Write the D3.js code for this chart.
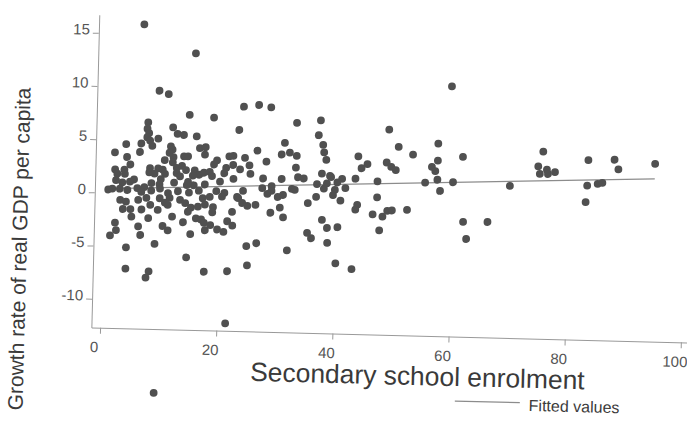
<!DOCTYPE html>
<html>
<head>
<meta charset="utf-8">
<script src="https://cdn.jsdelivr.net/npm/d3@7"></script>
<style>
  body { margin: 0; background: #fff; }
  svg { display: block; }
  text { font-family: "Liberation Sans", Arial, sans-serif; }
</style>
</head>
<body>
<svg width="687" height="438"></svg>
<script>
// scatter of growth vs secondary school enrolment
var enrolment = [
  6.3,15.3,9.2,10.8,14.5,18.7,23.8,26.4,28.5,23.1,33.0,37.1,36.8,48.9,59.5,31.0,37.6,37.8,38.2,
  7.4,7.3,7.6,7.3,7.8,8.2,11.7,12.5,13.6,15.8,9.2,3.7,6.3,6.1,1.8,3.9,11.4,11.7,11.2,11.9,11.8,
  13.7,14.4,16.4,17.4,17.3,10.4,4.5,1.9,2.3,3.5,3.6,7.9,9.3,7.8,8.7,10.1,10.5,9.8,12.5,13.4,
  14.1,12.5,13.1,15.6,16.4,15.3,17.2,5.2,4.5,3.2,2.1,8.2,9.6,12.1,14.3,15.5,14.5,1.5,2.8,4.1,
  5.8,7.0,6.5,8.2,9.7,11.1,12.8,14.7,16.4,
  26.3,30.5,31.9,33.1,21.5,22.2,24.2,27.9,19.4,18.9,22.2,25.0,18.2,21.0,23.4,25.2,33.0,20.7,
  18.6,20.0,22.3,27.4,30.6,33.4,34.4,38.9,17.4,19.4,20.8,24.0,23.0,27.3,28.9,28.9,28.2,30.0,
  30.9,32.4,32.9,36.7,37.9,36.6,
  2.9,3.9,3.4,4.7,4.9,6.0,7.4,8.1,6.6,9.7,9.4,11.4,11.1,11.9,7.8,10.6,13.2,14.1,15.1,14.6,
  16.0,16.9,16.3,17.1,13.8,2.1,2.3,1.3,6.1,6.5,10.3,11.2,15.1,17.6,4.1,9.0,14.5,4.1,8.1,7.6,
  17.6,17.4,
  18.3,20.4,17.5,18.9,18.8,23.2,23.9,24.8,26.2,30.4,28.8,31.0,35.2,22.2,18.5,19.7,20.8,21.4,
  22.3,37.7,38.6,35.2,35.9,38.7,24.8,26.5,31.8,25.0,21.6,21.5,9.5,
  50.6,53.1,57.4,61.7,43.7,45.3,44.3,48.6,49.4,50.2,57.4,56.4,57.0,37.5,39.1,41.0,43.3,47.1,
  55.3,57.4,60.1,38.4,40.2,41.6,39.8,39.5,57.9,47.1,40.8,43.7,43.4,46.4,48.1,48.9,49.7,52.3,
  40.4,47.6,40.2,43.0,62.0,62.6,66.2,
  69.9,75.5,74.7,75.0,76.2,76.4,77.6,83.3,87.8,88.5,94.8,83.2,85.0,85.8,83.0,0.8
];
var growth = [
  15.9,13.3,9.7,9.4,7.5,7.3,8.4,8.6,8.4,6.2,7.0,7.3,5.9,6.6,10.8,5.1,5.0,4.3,3.6,
  6.7,6.1,5.7,5.3,5.0,4.5,6.3,5.7,5.6,5.5,5.2,4.6,4.7,3.9,3.8,3.4,4.5,4.2,3.9,3.5,3.0,
  3.6,3.6,4.4,4.5,3.8,3.2,2.7,2.2,1.8,2.2,1.8,2.4,2.4,2.0,1.9,2.3,1.9,1.4,2.5,2.7,
  2.3,2.0,1.7,2.3,1.9,1.8,2.1,1.3,1.1,1.0,1.2,1.0,0.9,1.1,0.9,0.9,1.2,0.4,0.4,0.3,
  0.5,0.6,0.15,0.3,0.5,0.1,0.3,0.2,0.4,
  4.3,4.0,4.2,3.9,3.7,3.75,3.6,3.3,3.3,2.9,2.9,2.9,2.2,2.6,2.5,2.1,2.8,2.1,
  1.8,1.3,1.6,1.7,1.7,1.9,1.8,2.1,1.0,0.4,0.25,0.5,-0.1,0.8,1.0,0.55,0.26,0.0,
  0.2,0.8,0.7,1.3,0.9,0.1,
  -0.65,-0.8,-1.5,-1.5,-2.2,-0.6,-0.4,-1.05,-1.5,-0.4,-1.5,-0.35,-1.0,-2.1,-2.3,-0.8,-0.5,-0.8,-1.2,-1.6,
  -2.2,-2.3,-1.1,-0.3,-2.6,-2.8,-3.5,-4.0,-3.1,-3.9,-3.0,-3.4,-3.7,-3.3,-5.1,-4.7,-5.9,-7.1,-7.3,-7.9,
  -7.2,-2.6,
  -0.15,-0.1,-0.9,-1.1,-1.6,-0.2,-0.65,-0.9,-0.8,-1.0,-1.5,-1.9,-0.5,-1.5,-2.8,-3.2,-3.4,-2.4,
  -2.8,-2.05,-2.8,-3.3,-3.8,-4.2,-4.7,-4.4,-5.0,-6.5,-7.1,-12.0,-18.7,
  5.0,4.3,5.4,4.2,4.0,3.3,2.9,3.5,3.1,2.8,3.8,3.2,2.8,2.3,2.0,1.85,1.9,1.7,
  1.7,2.0,1.8,1.4,1.5,1.0,0.8,0.3,0.95,0.2,-0.2,-0.55,-1.0,-1.4,-1.6,-1.05,-1.0,-0.9,
  -2.7,-2.9,-6.1,-6.6,-1.9,-3.5,-1.85,
  1.6,4.9,3.5,2.8,3.2,2.8,3.0,4.2,4.3,3.4,4.0,1.8,2.0,2.1,0.25,0.3
];

// fitted values (linear fit), two end points
var fitX = [0.8, 94.8];
var fitY = [0.39, 2.6];

var xTicks = [0, 20, 40, 60, 80, 100];
var yTicks = [15, 10, 5, 0, -5, -10];

var xTitle = "Secondary school enrolment";
var yTitle = "Growth rate of real GDP per capita";
var legendLabel = "Fitted values";

var svg = d3.select("svg");

// the scanned page is a little tilted, so the whole chart is turned
var g = svg.append("g")
    .attr("transform", "rotate(1.45,100,192)");

var x = d3.scaleLinear()
    .domain([-1.5, 103])
    .range([94.8, 701.9]);

var y = d3.scaleLinear()
    .domain([-12.7, 16.7])
    .range([327.6, 14.8]);

// plain hyphen for negatives, like the original
var fmt = function(d) { return String(d); };

// y axis
var yAxis = g.append("g")
    .attr("transform", "translate(" + x(-1.5) + ",0)")
    .call(d3.axisLeft(y).tickValues(yTicks).tickFormat(fmt).tickSize(6).tickSizeOuter(0).tickPadding(3));
yAxis.select(".domain").attr("stroke", "#999");
yAxis.selectAll(".tick line").attr("stroke", "#999");
yAxis.selectAll(".tick text")
    .attr("font-size", 15)
    .attr("fill", "#555")
    .attr("dy", "0.1em")
    .style("font-family", "'Liberation Sans', Arial, sans-serif");

// x axis
var xAxis = g.append("g")
    .attr("transform", "translate(0," + y(-12.7) + ")")
    .call(d3.axisBottom(x).tickValues(xTicks).tickFormat(fmt).tickSize(6).tickSizeOuter(0).tickPadding(8));
xAxis.select(".domain").attr("stroke", "#999");
xAxis.selectAll(".tick line").attr("stroke", "#999");
xAxis.selectAll(".tick text")
    .attr("font-size", 15)
    .attr("fill", "#555")
    .attr("dx", -6)
    .style("font-family", "'Liberation Sans', Arial, sans-serif");

// fitted line
g.append("line")
    .attr("x1", x(fitX[0])).attr("y1", y(fitY[0]))
    .attr("x2", x(fitX[1])).attr("y2", y(fitY[1]))
    .attr("stroke", "#8c8c8c")
    .attr("stroke-width", 1.2);

// points
g.append("g")
  .selectAll("circle")
  .data(enrolment.map(function(d, i) { return [d, growth[i]]; }))
  .enter().append("circle")
    .attr("cx", function(d) { return x(d[0]); })
    .attr("cy", function(d) { return y(d[1]); })
    .attr("r", 3.9)
    .attr("fill", "#505050");

// axis titles
g.append("text")
    .attr("x", 422)
    .attr("y", 377)
    .attr("text-anchor", "middle")
    .attr("font-size", 26.4)
    .attr("fill", "#3a3a3a")
    .text(xTitle);

g.append("text")
    .attr("transform", "translate(28,251) rotate(-90)")
    .attr("text-anchor", "middle")
    .attr("font-size", 21)
    .attr("fill", "#3a3a3a")
    .text(yTitle);

// legend
g.append("line")
    .attr("x1", 460).attr("x2", 525)
    .attr("y1", 392).attr("y2", 392)
    .attr("stroke", "#8c8c8c")
    .attr("stroke-width", 1.2);

g.append("text")
    .attr("x", 534)
    .attr("y", 400)
    .attr("font-size", 16)
    .attr("fill", "#3a3a3a")
    .text(legendLabel);
</script>
</body>
</html>
